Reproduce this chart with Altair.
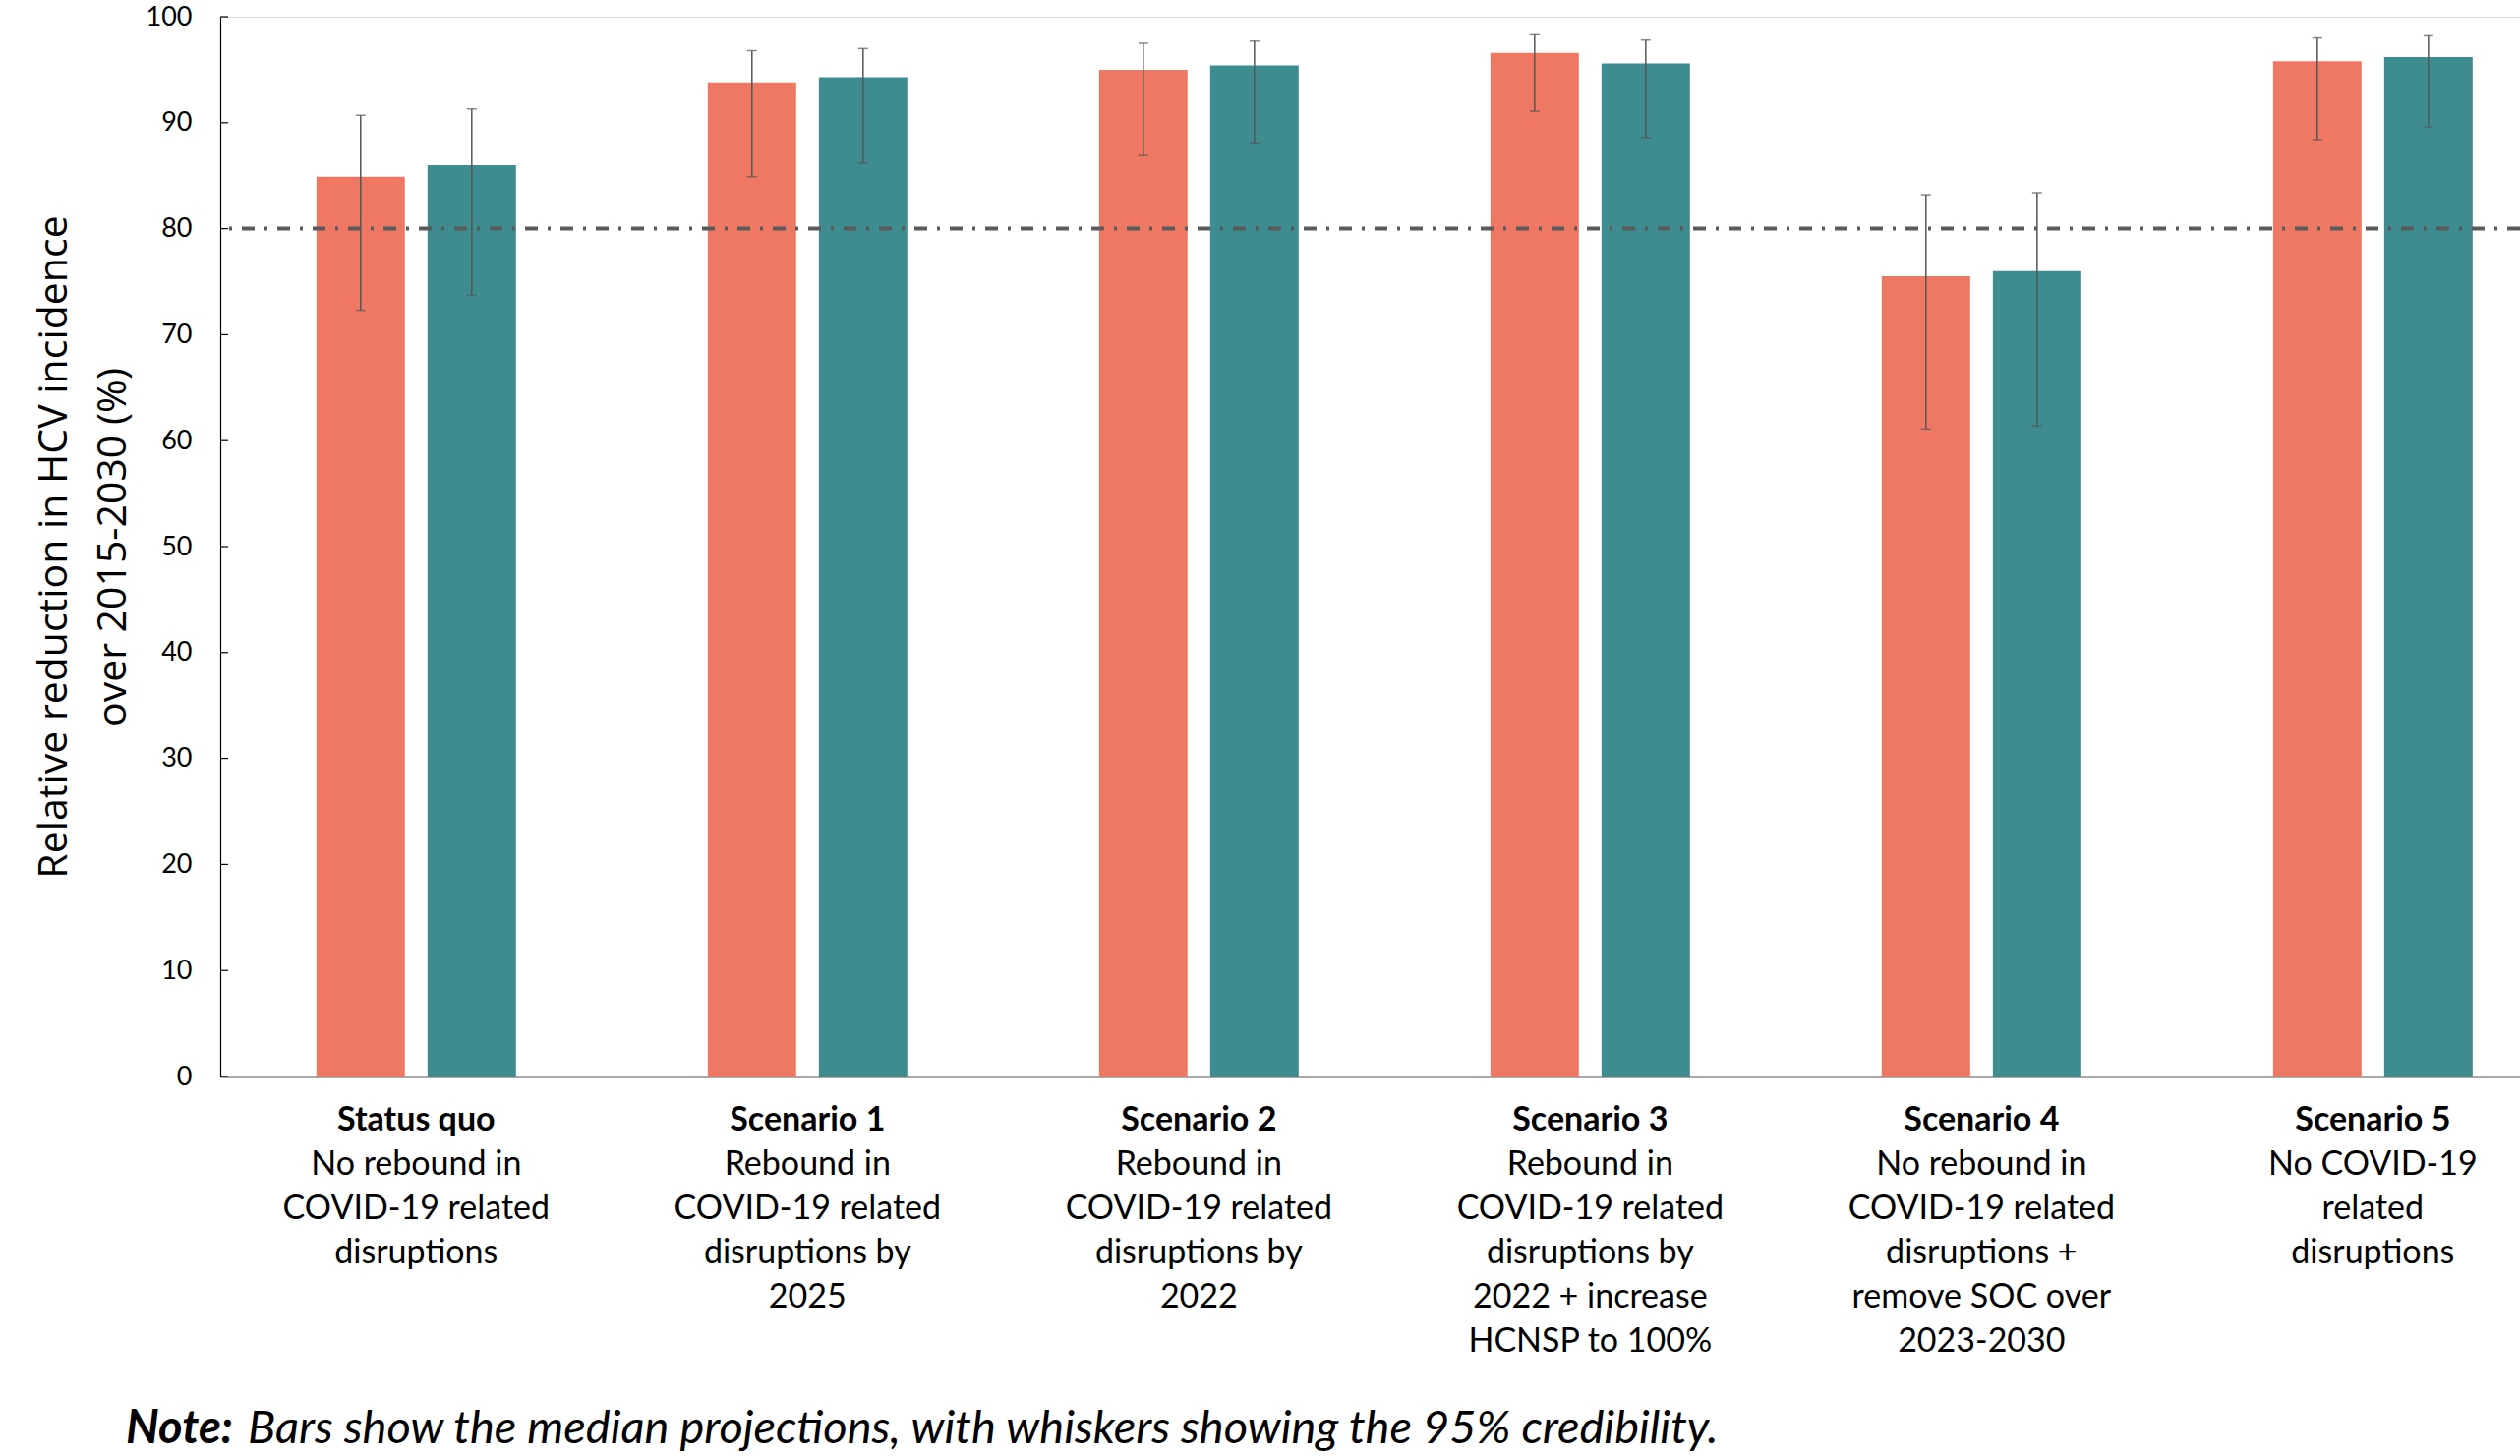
import altair as alt
import pandas as pd

scenarios = ["Status quo", "Scenario 1", "Scenario 2", "Scenario 3", "Scenario 4", "Scenario 5"]
descriptions = [
    "No rebound in\nCOVID-19 related\ndisruptions",
    "Rebound in\nCOVID-19 related\ndisruptions by\n2025",
    "Rebound in\nCOVID-19 related\ndisruptions by\n2022",
    "Rebound in\nCOVID-19 related\ndisruptions by\n2022 + increase\nHCNSP to 100%",
    "No rebound in\nCOVID-19 related\ndisruptions +\nremove SOC over\n2023-2030",
    "No COVID-19\nrelated\ndisruptions",
]
series = ["Series A", "Series B"]
median_a = [84.9, 93.8, 95.0, 96.6, 75.5, 95.8]
lower_a = [72.3, 84.9, 86.9, 91.1, 61.1, 88.4]
upper_a = [90.7, 96.8, 97.5, 98.3, 83.2, 98.0]
median_b = [86.0, 94.3, 95.4, 95.6, 76.0, 96.2]
lower_b = [73.7, 86.2, 88.1, 88.6, 61.4, 89.6]
upper_b = [91.3, 97.0, 97.7, 97.8, 83.4, 98.2]
target = [80]
y_ticks = [0, 10, 20, 30, 40, 50, 60, 70, 80, 90, 100]
note_bold = "Note:"
note_text = "Bars show the median projections, with whiskers showing the 95% credibility."

colors = ["#EE7864", "#3E8C8F"]
LABEL_FONT = "Lato"

rows = []
for i, s in enumerate(scenarios):
    rows.append({"scenario": s, "series": series[0], "median": median_a[i], "lower": lower_a[i], "upper": upper_a[i]})
    rows.append({"scenario": s, "series": series[1], "median": median_b[i], "lower": lower_b[i], "upper": upper_b[i]})
df = pd.DataFrame(rows)
labels_df = pd.DataFrame({"scenario": scenarios, "desc": descriptions})

W, H = 2339, 1078

x_enc = alt.X(
    "scenario:N", sort=scenarios,
    scale=alt.Scale(paddingInner=0.49, paddingOuter=0.1834, align=0.67),
    axis=alt.Axis(labels=False, ticks=False, title=None, domainColor="#8c8c8c", domainWidth=2.5),
)
xo_enc = alt.XOffset("series:N", sort=series, scale=alt.Scale(paddingInner=0.204, paddingOuter=0))
y_scale = alt.Scale(domain=[0, 100], nice=False, zero=True)

base = alt.Chart(df)

bars = base.mark_bar().encode(
    x=x_enc, xOffset=xo_enc,
    y=alt.Y("median:Q", scale=y_scale, axis=alt.Axis(
        values=y_ticks, grid=False, ticks=False, domainColor="#000000", domainWidth=1.2,
        labelFont=LABEL_FONT, labelFontSize=27, labelColor="#000000", labelPadding=29,
        title=["Relative reduction in HCV incidence", "over 2015-2030 (%)"],
        titleFont="Open Sans", titleFontSize=41, titleFontWeight="normal", titleColor="#000000",
        titlePadding=12, titleLineHeight=60,
    )),
    color=alt.Color("series:N", scale=alt.Scale(domain=series, range=colors), legend=None),
)

err = base.mark_rule(color="#555555", strokeWidth=1.5).encode(
    x=x_enc, xOffset=xo_enc, y=alt.Y("lower:Q", scale=y_scale), y2="upper:Q"
)
cap_top = base.mark_tick(color="#555555", size=10, thickness=1.5).encode(
    x=x_enc, xOffset=xo_enc, y=alt.Y("upper:Q", scale=y_scale)
)
cap_bot = base.mark_tick(color="#555555", size=10, thickness=1.5).encode(
    x=x_enc, xOffset=xo_enc, y=alt.Y("lower:Q", scale=y_scale)
)

ref = alt.Chart(pd.DataFrame({"t": target})).mark_rule(
    color="#5a5a5a", strokeWidth=4, strokeDash=[13, 10, 3, 10]
).encode(y=alt.Y("t:Q", scale=y_scale))

inner_ticks = alt.Chart(pd.DataFrame({"v": y_ticks})).mark_rule(color="#000000", strokeWidth=1.2).encode(
    y=alt.Y("v:Q", scale=y_scale), x=alt.value(0), x2=alt.value(8)
)

name_text = alt.Chart(labels_df).mark_text(
    font=LABEL_FONT, fontSize=34, fontWeight="bold", color="#000000", baseline="middle", align="center"
).encode(x=x_enc, y=alt.value(1123), text="scenario:N")

desc_text = alt.Chart(labels_df).mark_text(
    font=LABEL_FONT, fontSize=34, color="#000000", baseline="top", align="center",
    lineBreak="\n", lineHeight=45,
).encode(x=x_enc, y=alt.value(1151), text="desc:N")

note1 = alt.Chart(pd.DataFrame({"t": [note_bold]})).mark_text(
    font=LABEL_FONT, fontSize=47, fontWeight="bold", fontStyle="italic", color="#000000",
    align="left", baseline="middle",
).encode(x=alt.value(-96), y=alt.value(1437), text="t:N")
note2 = alt.Chart(pd.DataFrame({"t": [note_text]})).mark_text(
    font=LABEL_FONT, fontSize=47, fontStyle="italic", color="#000000",
    align="left", baseline="middle",
).encode(x=alt.value(28), y=alt.value(1437), text="t:N")

chart = alt.layer(
    bars, err, cap_top, cap_bot, ref, inner_ticks, name_text, desc_text, note1, note2
).properties(
    width=W, height=H,
    autosize=alt.AutoSizeParams(type="none"),
    padding={"left": 224, "top": 17, "right": 0, "bottom": 386},
).configure_view(stroke=None).configure(background="white")

chart.save("out.html", embed_options={"renderer": "svg", "actions": False})
